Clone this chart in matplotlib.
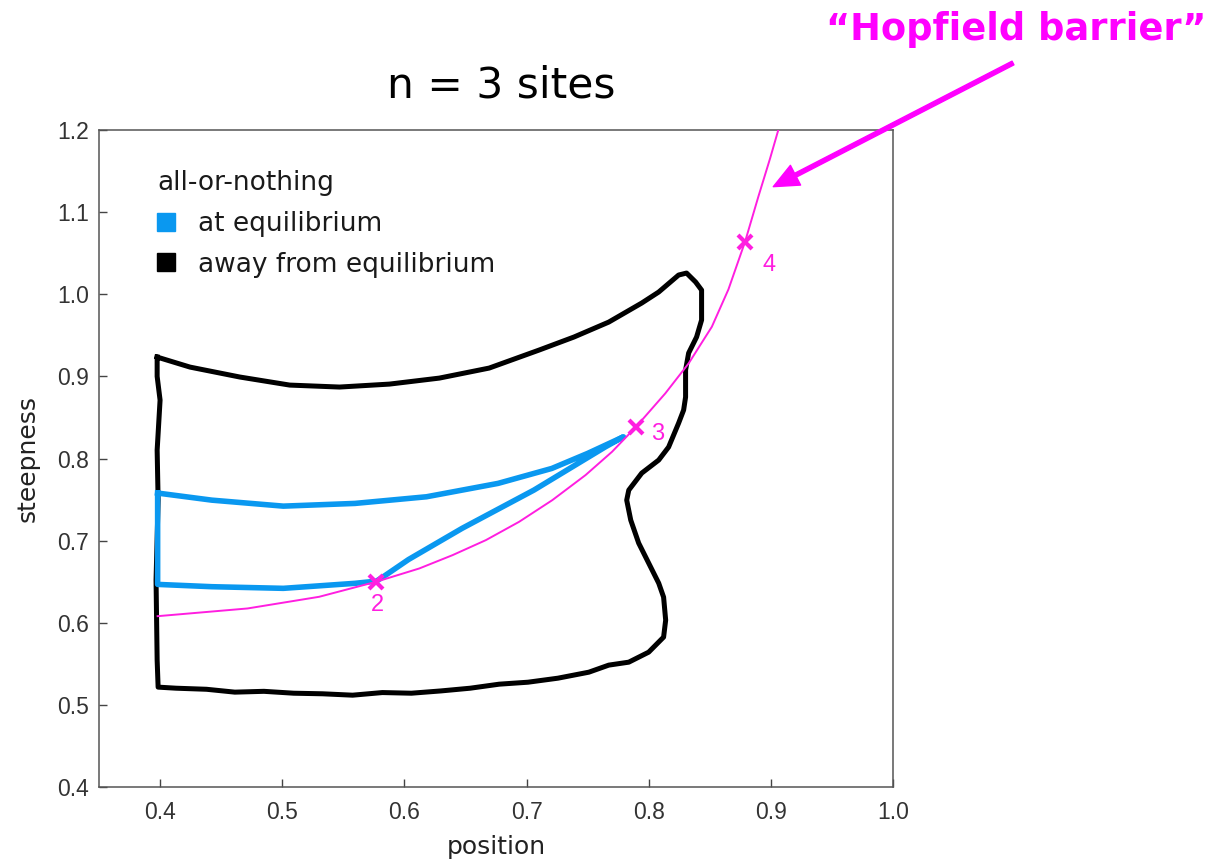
import matplotlib
matplotlib.use('Agg')
import matplotlib.pyplot as plt
from matplotlib.lines import Line2D

plt.rcParams['font.family'] = ['DejaVu Sans']

# away from equilibrium: outline of the reachable region (position, steepness)
away_x = [0.3976, 0.4245, 0.4653, 0.5061, 0.5469, 0.5878, 0.6286, 0.6694, 0.7102,
          0.7388, 0.7673, 0.7943, 0.8082, 0.8245, 0.8310, 0.8384, 0.8433, 0.8433,
          0.8392, 0.8327, 0.8302, 0.8302, 0.8286, 0.8245, 0.8163, 0.8082, 0.7943,
          0.7837, 0.7820, 0.7853, 0.7918, 0.8000, 0.8082, 0.8122, 0.8139, 0.8122,
          0.8000, 0.7837, 0.7673, 0.7510, 0.7257, 0.7012, 0.6776, 0.6539, 0.6300,
          0.6057, 0.5820, 0.5576, 0.5330, 0.5094, 0.4850, 0.4612, 0.4380, 0.4131,
          0.3984, 0.3976, 0.3967, 0.3984, 0.3976, 0.4000, 0.3976, 0.3976]
away_y = [0.9235, 0.9113, 0.8992, 0.8894, 0.8870, 0.8906, 0.8979, 0.9101, 0.9320,
          0.9479, 0.9661, 0.9893, 1.0027, 1.0234, 1.0258, 1.0149, 1.0051, 0.9686,
          0.9479, 0.9284, 0.9077, 0.8748, 0.8590, 0.8431, 0.8139, 0.7981, 0.7822,
          0.7615, 0.7493, 0.7250, 0.6970, 0.6726, 0.6482, 0.6312, 0.6032, 0.5825,
          0.5642, 0.5520, 0.5484, 0.5398, 0.5325, 0.5276, 0.5252, 0.5203, 0.5170,
          0.5142, 0.5150, 0.5118, 0.5135, 0.5142, 0.5165, 0.5155, 0.5190, 0.5203,
          0.5216, 0.5545, 0.6519, 0.7493, 0.8102, 0.8711, 0.9000, 0.9235]

# at equilibrium
eq_x = [0.3980, 0.4423, 0.5009, 0.5595, 0.6181, 0.6767, 0.7207, 0.7500, 0.7793,
        0.7646, 0.7060, 0.6473, 0.6034, 0.5829, 0.5771, 0.5595, 0.5009, 0.4423,
        0.3980, 0.3980]
eq_y = [0.7579, 0.7493, 0.7420, 0.7453, 0.7534, 0.7697, 0.7879, 0.8062, 0.8264,
        0.8142, 0.7615, 0.7150, 0.6770, 0.6562, 0.6507, 0.6480, 0.6419, 0.6439,
        0.6467, 0.7579]

# Hopfield barrier
barrier_x = [0.398, 0.4716, 0.5302, 0.5769, 0.6122, 0.6394, 0.6667, 0.6939,
             0.7211, 0.7483, 0.7700, 0.7894, 0.8136, 0.8327, 0.8517, 0.8653,
             0.8789, 0.8898, 0.8993, 0.9061]
barrier_y = [0.608, 0.6174, 0.6316, 0.6499, 0.6661, 0.6823, 0.7006, 0.7229,
             0.7493, 0.7798, 0.8082, 0.8382, 0.8793, 0.9158, 0.9604, 1.0060,
             1.0640, 1.1190, 1.1650, 1.2000]

site_n = ['2', '3', '4']
site_x = [0.5769, 0.7894, 0.8789]
site_y = [0.6499, 0.8382, 1.0640]
site_offset = [(1, -17), (16, -5), (17, -17)]

blue = '#0a98f0'
pink = '#ff1ee0'
magenta = '#ff00ff'

fig = plt.figure(figsize=(12.1, 8.6), dpi=100)
ax = fig.add_axes([99 / 1210, 1 - 787 / 860, 794 / 1210, 657 / 860])

ax.plot(away_x, away_y, color='black', lw=3.6, solid_joinstyle='round', zorder=2)
ax.plot(eq_x, eq_y, color=blue, lw=4, solid_joinstyle='round', zorder=3)
ax.plot(barrier_x, barrier_y, color=pink, lw=1.4, zorder=4)
ax.plot(site_x, site_y, ls='', marker='x', ms=10, mew=3, color=pink, zorder=5)
for n, x, y, off in zip(site_n, site_x, site_y, site_offset):
    ax.annotate(n, (x, y), xytext=off, textcoords='offset points', color=pink,
                fontsize=17, family='Liberation Sans', ha='center', va='center')

ax.set_xlim(0.35, 1.0)
ax.set_ylim(0.4, 1.2)
ax.set_xticks([0.4, 0.5, 0.6, 0.7, 0.8, 0.9, 1.0])
ax.set_yticks([0.4, 0.5, 0.6, 0.7, 0.8, 0.9, 1.0, 1.1, 1.2])
ax.set_xticklabels(['%.1f' % v for v in ax.get_xticks()])
ax.set_yticklabels(['%.1f' % v for v in ax.get_yticks()])
for lab in ax.get_xticklabels() + ax.get_yticklabels():
    lab.set_family('Liberation Sans')
    lab.set_fontsize(16.5)
    lab.set_color('#333333')
ax.tick_params(axis='both', direction='in', length=6, width=1, color='#444444')
ax.tick_params(axis='x', pad=10)
ax.tick_params(axis='y', pad=7)
for sp in ax.spines.values():
    sp.set_color('#555555')
    sp.set_linewidth(1.1)

ax.set_xlabel('position', fontsize=18, color='#222222', labelpad=8)
ax.set_ylabel('steepness', fontsize=18, color='#222222', labelpad=13)

handles = [Line2D([], [], ls='', marker='s', ms=12.5, color=blue),
           Line2D([], [], ls='', marker='s', ms=12.5, color='black')]
leg = ax.legend(handles, ['at equilibrium', 'away from equilibrium'],
                title='all-or-nothing', loc='upper left',
                bbox_to_anchor=(0.073, 0.939), frameon=False, fontsize=19,
                title_fontsize=19, alignment='left', borderpad=0,
                borderaxespad=0, handlelength=0.7, handletextpad=0.85,
                labelspacing=0.56)
for t in leg.get_texts():
    t.set_color('#1a1a1a')
leg.get_title().set_color('#1a1a1a')

fig.text(501 / 1210, 1 - 86 / 860, 'n = 3 sites', fontsize=30.5, ha='center',
         va='center', color='black')
fig.text(1206 / 1210, 1 - 29 / 860, '\u201cHopfield barrier\u201d', fontsize=26.5,
         fontweight='bold', ha='right', va='center', color=magenta)
ax.annotate('', xy=(0.902, 1.131), xycoords='data',
            xytext=(1013 / 1210, 1 - 63 / 860), textcoords='figure fraction',
            arrowprops=dict(color=magenta, width=3, headwidth=16,
                            headlength=18, shrink=0),
            annotation_clip=False)

fig.savefig('out.png', dpi=100)
